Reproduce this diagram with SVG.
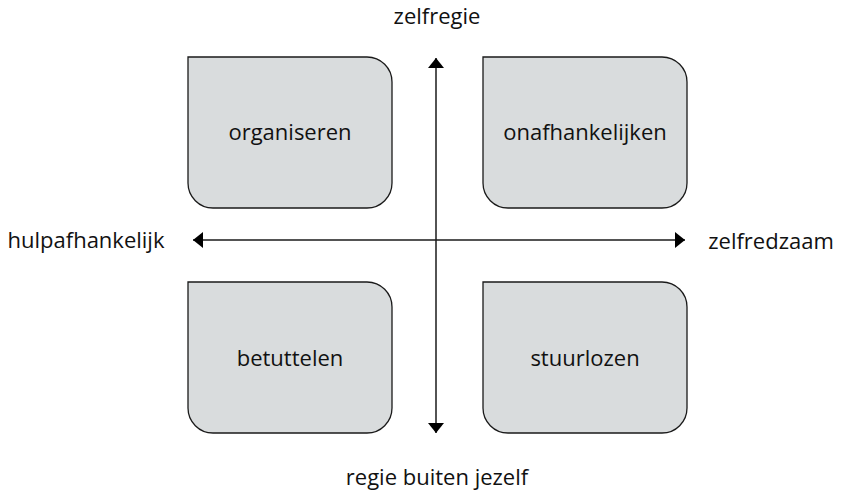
<svg xmlns="http://www.w3.org/2000/svg" width="841" height="492" viewBox="0 0 841 492">
<style>
.box{fill:#d9dcdd;stroke:#1a1a1a;stroke-width:1.3}
.t{font-family:"Open Sans","Noto Sans",sans-serif;font-size:22px;fill:#111;text-anchor:middle}
.ax{stroke:#1a1a1a;stroke-width:1.5;fill:none}
</style>
<defs>
<marker id="ah" viewBox="0 0 10 16" refX="10" refY="8" markerWidth="10" markerHeight="16" markerUnits="userSpaceOnUse" orient="auto-start-reverse">
<path d="M0,0 L10,8 L0,16 Z" fill="#000"/>
</marker>
</defs>
<g id="connectors">
<line class="ax" x1="436" y1="58" x2="436" y2="433" marker-start="url(#ah)" marker-end="url(#ah)"/>
<line class="ax" x1="193" y1="240" x2="685" y2="240" marker-start="url(#ah)" marker-end="url(#ah)"/>
</g>
<g id="organiseren">
<path class="box" d="M188,57 H367 A25,25 0 0 1 392,82 V183 A25,25 0 0 1 367,208 H213 A25,25 0 0 1 188,183 Z"/>
<text class="t" x="290" y="140">organiseren</text>
</g>
<g id="onafhankelijken">
<path class="box" d="M483,57 H662 A25,25 0 0 1 687,82 V183 A25,25 0 0 1 662,208 H508 A25,25 0 0 1 483,183 Z"/>
<text class="t" x="585" y="140">onafhankelijken</text>
</g>
<g id="betuttelen">
<path class="box" d="M188,282 H367 A25,25 0 0 1 392,307 V408 A25,25 0 0 1 367,433 H213 A25,25 0 0 1 188,408 Z"/>
<text class="t" x="290" y="366">betuttelen</text>
</g>
<g id="stuurlozen">
<path class="box" d="M483,282 H662 A25,25 0 0 1 687,307 V408 A25,25 0 0 1 662,433 H508 A25,25 0 0 1 483,408 Z"/>
<text class="t" x="585" y="366">stuurlozen</text>
</g>
<g id="labels">
<text class="t" x="437" y="24">zelfregie</text>
<text class="t" x="437" y="485">regie buiten jezelf</text>
<text class="t" x="86" y="248">hulpafhankelijk</text>
<text class="t" x="771" y="249">zelfredzaam</text>
</g>
</svg>
